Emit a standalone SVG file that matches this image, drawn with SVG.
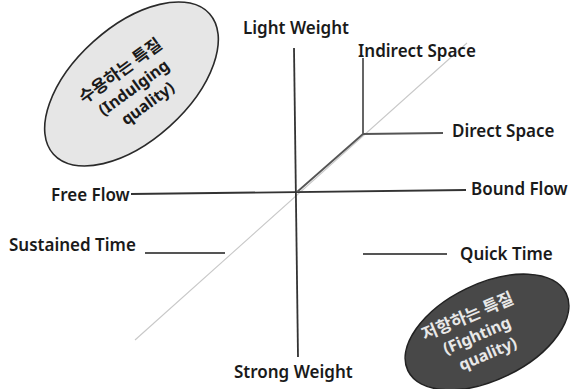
<svg xmlns="http://www.w3.org/2000/svg" width="570" height="389" viewBox="0 0 570 389">
<style>
.lbl{font-family:"Noto Sans","Noto Sans CJK KR",sans-serif;font-weight:600;font-size:17px;fill:#1a1a1a}
.etx{font-family:"Noto Sans","Noto Sans CJK KR",sans-serif;font-weight:700;font-size:16px;text-anchor:middle}
.ko{font-family:"Noto Sans CJK KR",sans-serif;font-size:17px}
.ax{stroke:#333;stroke-width:1.8;fill:none}
.mid{stroke:#555;stroke-width:1.8;fill:none}
</style>
<rect width="570" height="389" fill="#fff"/>
<g id="connectors">
<line x1="135" y1="340" x2="467" y2="43" stroke="#c8c8c8" stroke-width="1.1"/>
<line class="ax" x1="131" y1="194" x2="466" y2="190"/>
<line class="ax" x1="294" y1="48" x2="298" y2="357"/>
<polyline class="mid" points="297,192 363,134 363,58"/>
<line class="mid" x1="363" y1="134" x2="443" y2="133"/>
<line class="mid" x1="145" y1="253" x2="225" y2="253"/>
<line class="mid" x1="363" y1="254" x2="447" y2="254"/>
</g>
<g id="light-weight"><text class="lbl" x="243" y="34">Light Weight</text></g>
<g id="indirect-space"><text class="lbl" x="358" y="57">Indirect Space</text></g>
<g id="direct-space"><text class="lbl" x="452" y="137">Direct Space</text></g>
<g id="bound-flow"><text class="lbl" x="471" y="195">Bound Flow</text></g>
<g id="free-flow"><text class="lbl" x="51" y="201">Free Flow</text></g>
<g id="sustained-time"><text class="lbl" x="9" y="251">Sustained Time</text></g>
<g id="quick-time"><text class="lbl" x="460" y="260">Quick Time</text></g>
<g id="strong-weight"><text class="lbl" x="234" y="378">Strong Weight</text></g>
<g id="indulging">
<ellipse cx="131.5" cy="84" rx="105" ry="57" transform="rotate(-42 131.5 84)" fill="#e6e6e6" stroke="#2a2a2a" stroke-width="1.6"/>
<g transform="translate(134 88) rotate(-36)" fill="#1a1a1a">
<text class="etx ko" x="-1" y="-16">수용하는 특질</text>
<text class="etx" x="0" y="5">(Indulging</text>
<text class="etx" x="2" y="26">quality)</text>
</g>
</g>
<g id="fighting">
<ellipse cx="487" cy="332" rx="88" ry="48" transform="rotate(-26 487 332)" fill="#484848" stroke="#222" stroke-width="1.6"/>
<g transform="translate(477 336) rotate(-23)" fill="#e8e8e8">
<text class="etx ko" x="-1" y="-16">저항하는 특질</text>
<text class="etx" x="0" y="5">(Fighting</text>
<text class="etx" x="3" y="26">quality)</text>
</g>
</g>
</svg>
